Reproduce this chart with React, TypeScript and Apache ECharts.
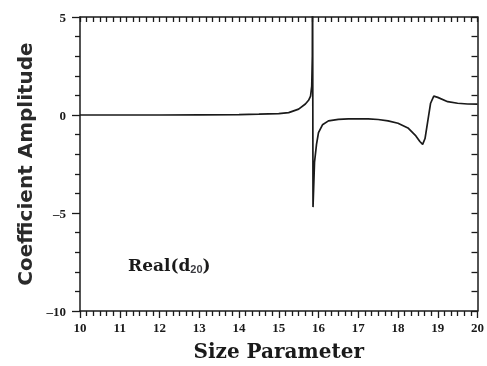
import React, { useEffect, useRef } from "react";
import * as echarts from "echarts";

const sizeParam = [
  10, 11, 12, 13, 14, 14.5, 15, 15.25, 15.5, 15.67, 15.75, 15.8, 15.83, 15.845, 15.85,
  15.862, 15.9, 15.95, 16.0, 16.1, 16.25, 16.5, 16.75, 17.0, 17.25, 17.5, 17.75, 18.0,
  18.25, 18.45, 18.55, 18.62, 18.68, 18.75, 18.82, 18.9, 19.0, 19.25, 19.5, 19.75, 20,
];
const realD20 = [
  0, 0, 0, 0.01, 0.02, 0.04, 0.07, 0.12, 0.3, 0.56, 0.75, 0.96, 1.47, 3, 8,
  -4.7, -2.4, -1.5, -0.9, -0.5, -0.3, -0.22, -0.2, -0.2, -0.2, -0.23, -0.3, -0.42,
  -0.66, -1.07, -1.35, -1.5, -1.2, -0.3, 0.6, 0.96, 0.9, 0.68, 0.6, 0.56, 0.55,
];
const xTicks = { min: 10, max: 20, step: 1 };
const yTicks = { min: -10, max: 5, step: 5 };

const INK = "#1a1a1a";

export default function App() {
  const ref = useRef<HTMLDivElement>(null);
  useEffect(() => {
    if (!ref.current) return;
    const chart = echarts.init(ref.current, null, { renderer: "svg" });
    const data = sizeParam.map((x, i) => [x, realD20[i]]);
    const labelFont = {
      fontFamily: "Liberation Serif",
      fontWeight: "bold" as const,
      fontSize: 13,
      color: INK,
    };
    const line = { color: INK, width: 1.5 };
    const tl = { color: INK, width: 1.3 };
    chart.setOption({
      animation: false,
      grid: { left: 80, right: 7, top: 17, bottom: 53 },
      title: {
        left: 128,
        top: 255,
        padding: 0,
        text: "{a|Real(d}{b|20}{a|)}",
        textStyle: {
          rich: {
            a: { fontFamily: "DejaVu Serif", fontWeight: "bold", fontSize: 17, color: INK },
            b: { fontSize: 11, padding: [8, 0, 0, 0] },
          },
        },
      },
      xAxis: [
        {
          type: "value",
          position: "bottom",
          min: xTicks.min,
          max: xTicks.max,
          interval: xTicks.step,
          name: "Size Parameter",
          nameLocation: "middle",
          nameGap: 30,
          nameTextStyle: {
            fontFamily: "DejaVu Serif",
            fontWeight: "bold",
            fontSize: 20,
            color: INK,
          },
          splitLine: { show: false },
          axisLine: { show: true, onZero: false, lineStyle: line },
          axisTick: { show: true, inside: false, length: 7, lineStyle: tl },
          minorTick: { show: true, splitNumber: 6, length: 5, lineStyle: tl },
          axisLabel: { show: true, ...labelFont, margin: 10 },
        },
        {
          type: "value",
          position: "top",
          min: xTicks.min,
          max: xTicks.max,
          interval: xTicks.step,
          splitLine: { show: false },
          axisLine: { show: true, onZero: false, lineStyle: line },
          axisTick: { show: true, inside: true, length: 5, lineStyle: tl },
          minorTick: { show: true, splitNumber: 6, length: 5, lineStyle: tl },
          axisLabel: { show: false },
        },
      ],
      yAxis: [
        {
          type: "value",
          position: "left",
          min: yTicks.min,
          max: yTicks.max,
          interval: yTicks.step,
          name: "Coefficient Amplitude",
          nameLocation: "middle",
          nameGap: 45,
          nameTextStyle: {
            fontFamily: "DejaVu Sans",
            fontWeight: "bold",
            fontSize: 20,
            color: "#2a2a2a",
          },
          splitLine: { show: false },
          axisLine: { show: true, onZero: false, lineStyle: line },
          axisTick: { show: true, inside: false, length: 8, lineStyle: tl },
          minorTick: { show: true, splitNumber: 5, length: 5, lineStyle: tl },
          axisLabel: {
            show: true,
            ...labelFont,
            margin: 14,
            formatter: (v: number) => (v < 0 ? "\u2013" + Math.abs(v) : String(v)),
          },
        },
        {
          type: "value",
          position: "right",
          min: yTicks.min,
          max: yTicks.max,
          interval: 1,
          splitLine: { show: false },
          axisLine: { show: true, onZero: false, lineStyle: line },
          axisTick: { show: true, inside: true, length: 6, lineStyle: tl },
          axisLabel: { show: false },
        },
      ],
      series: [
        {
          type: "line",
          xAxisIndex: 0,
          yAxisIndex: 0,
          data,
          showSymbol: false,
          smooth: false,
          clip: true,
          lineStyle: { color: INK, width: 1.7 },
        },
      ],
    });
    return () => chart.dispose();
  }, []);
  return (
    <div
      ref={ref}
      style={{ position: "fixed", left: 0, top: 0, width: 487, height: 366 }}
    />
  );
}
